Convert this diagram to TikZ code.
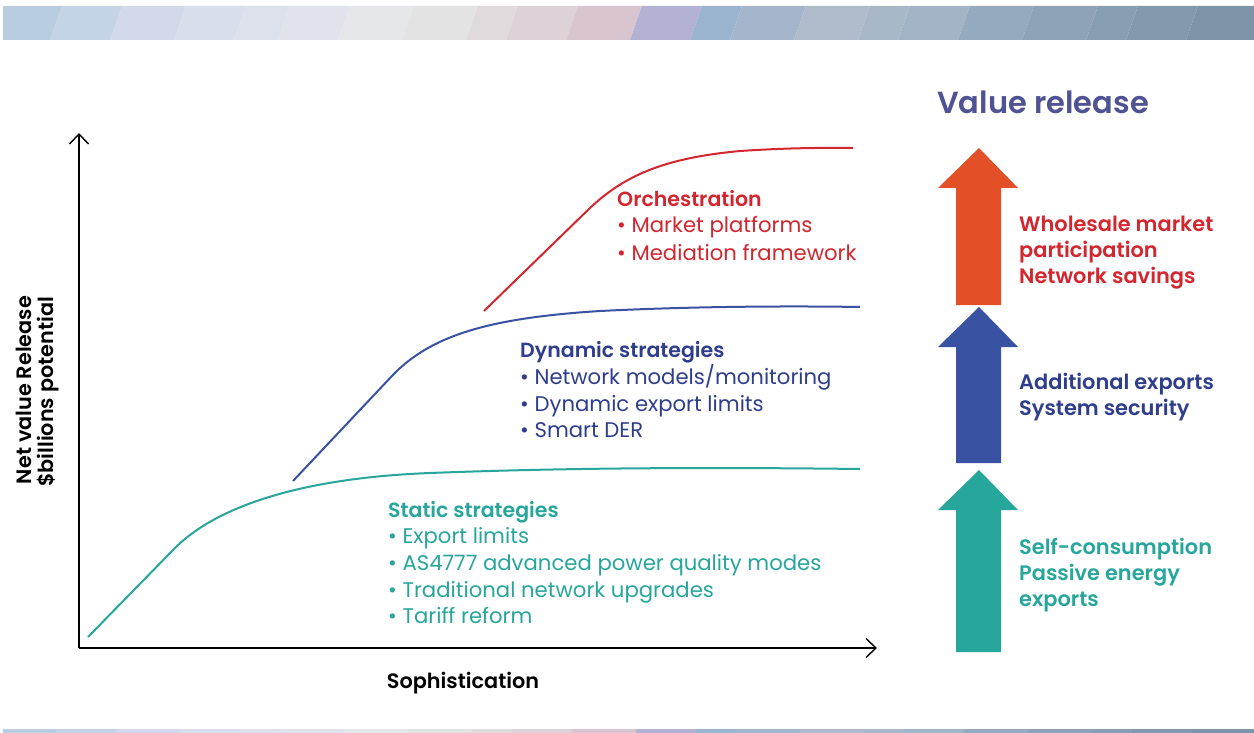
\documentclass[tikz,border=0pt]{standalone}
\usepackage{fontspec}
\setmainfont{Poppins}[BoldFont={Poppins SemiBold}]
\usetikzlibrary{arrows.meta}
\definecolor{b1}{HTML}{B9CDE1}
\definecolor{b2}{HTML}{C4D3E5}
\definecolor{b3}{HTML}{D2D9EA}
\definecolor{b4}{HTML}{D9DEEC}
\definecolor{b5}{HTML}{DDE1EC}
\definecolor{b6}{HTML}{E0E3EB}
\definecolor{b7}{HTML}{E5E6EA}
\definecolor{b8}{HTML}{E3E3E4}
\definecolor{b9}{HTML}{E0DADC}
\definecolor{b10}{HTML}{DDD2D7}
\definecolor{b11}{HTML}{D8C5CF}
\definecolor{b12}{HTML}{B3B2D2}
\definecolor{b13}{HTML}{9BB4CF}
\definecolor{b14}{HTML}{A5B6CC}
\definecolor{b15}{HTML}{AFBBCA}
\definecolor{b16}{HTML}{A9B8C9}
\definecolor{b17}{HTML}{A3B4C6}
\definecolor{b18}{HTML}{96AABF}
\definecolor{b19}{HTML}{8EA3B8}
\definecolor{b20}{HTML}{889EB3}
\definecolor{b21}{HTML}{839AAE}
\definecolor{b22}{HTML}{7E94A9}
\definecolor{tealc}{HTML}{27A69C}
\definecolor{bluec}{HTML}{3A52A2}
\definecolor{bluetxt}{HTML}{2F3E8C}
\definecolor{orangec}{HTML}{E35027}
\definecolor{redc}{HTML}{D3262F}
\definecolor{titlec}{HTML}{4F5394}
\tikzset{
  curve/.style={line width=2pt},
  axis/.style={line width=1.4pt, -{Straight Barb[length=10pt,width=19pt,line width=1.4pt]}},
  item/.style={anchor=base west, inner sep=0pt, font=\fontsize{21.2}{24}\selectfont},
  ttl/.style={anchor=base west, inner sep=0pt, font=\fontsize{20.5}{24}\selectfont\bfseries},
  rlab/.style={anchor=base west, inner sep=0pt, font=\fontsize{20.9}{24}\selectfont\bfseries},
  axlab/.style={inner sep=0pt, font=\fontsize{20.8}{24}\selectfont\bfseries},
}
\begin{document}
\begin{tikzpicture}[x=1pt,y=-1pt]
\useasboundingbox (0,0) rectangle (1254,733);
\fill[white] (0,0) rectangle (1254,733);
% banners
\begin{scope}
\clip (3,6) rectangle (1254,40);
\foreach \a/\b/\i in {-20/56/1,56/116/2,116/180/3,180/240/4,240/284/5,284/344/6,344/408/7,408/472/8,472/512/9,512/572/10,572/636/11,636/696/12,696/736/13,736/800/14,800/864/15,864/904/16,904/964/17,964/1028/18,1028/1092/19,1092/1132/20,1132/1192/21,1192/1280/22}
  \fill[b\i] (\a+6,6) -- (\b+6,6) -- (\b-6,40) -- (\a-6,40) -- cycle;
\end{scope}
\begin{scope}
\clip (3,729) rectangle (1254,733);
\foreach \a/\b/\i in {-20/56/1,56/116/2,116/180/3,180/240/4,240/284/5,284/344/6,344/408/7,408/472/8,472/512/9,512/572/10,572/636/11,636/696/12,696/736/13,736/800/14,800/864/15,864/904/16,904/964/17,964/1028/18,1028/1092/19,1092/1132/20,1132/1192/21,1192/1280/22}
  \fill[b\i] (\a,729) rectangle (\b,733);
\end{scope}
% axes
\coordinate (o) at (79,648);
\coordinate (ytop) at (79,133);
\coordinate (xend) at (877,648);
\draw[axis] (o) -- (ytop);
\draw[axis] (o) -- (xend);
\node[axlab, rotate=90, anchor=base] (ylab1) at (31,390) {Net value Release};
\node[axlab, rotate=90, anchor=base] (ylab2) at (53,392) {\$billions potential};
\node[axlab, anchor=base] (xlab) at (463,688) {Sophistication};
% curves
\coordinate (t0) at (88,637);
\coordinate (t1) at (174,549);
\coordinate (t2) at (430,473);
\coordinate (t3) at (860,469);
\draw[curve, tealc] (t0) -- (t1) .. controls (215,507) and (300,478) .. (t2) .. controls (560,468) and (700,467) .. (t3);
\coordinate (u0) at (293,481);
\coordinate (u1) at (391,377);
\coordinate (u2) at (600,311);
\coordinate (u3) at (860,307);
\draw[curve, bluec] (u0) -- (u1) .. controls (430,335) and (490,318) .. (u2) .. controls (700,306) and (800,306) .. (u3);
\coordinate (r0) at (484,311);
\coordinate (r1) at (590,208);
\coordinate (r2) at (740,151);
\coordinate (r3) at (853,148);
\draw[curve, redc] (r0) -- (r1) .. controls (625,175) and (665,158) .. (r2) .. controls (800,147) and (840,148) .. (r3);
% curve texts
\node[ttl, redc] (o1) at (617,207) {Orchestration};
\node[item, redc] (o2) at (617,233) {• Market platforms};
\node[item, redc] (o3) at (617,260) {• Mediation framework};
\node[ttl, bluetxt] (d1) at (520,357) {Dynamic strategies};
\node[item, bluetxt] (d2) at (520,384) {• Network models/monitoring};
\node[item, bluetxt] (d3) at (520,411) {• Dynamic export limits};
\node[item, bluetxt] (d4) at (520,437) {• Smart DER};
\node[ttl, tealc] (s1) at (388,517) {Static strategies};
\node[item, tealc] (s2) at (388,543) {• Export limits};
\node[item, tealc] (s3) at (388,570) {• AS4777 advanced power quality modes};
\node[item, tealc] (s4) at (388,597) {• Traditional network upgrades};
\node[item, tealc] (s5) at (388,623) {• Tariff reform};
% value release
\node[anchor=base west, inner sep=0pt, font=\fontsize{30.5}{32}\selectfont\bfseries, titlec] (vr) at (937,114) {Value release};
\fill[orangec] (956,305) -- (956,188) -- (938,188) -- (979,148) -- (1018,188) -- (1001,188) -- (1001,305) -- cycle;
\fill[bluec] (956,463) -- (956,347) -- (938,347) -- (979,307) -- (1018,347) -- (1001,347) -- (1001,463) -- cycle;
\fill[tealc] (956,652) -- (956,510) -- (938,510) -- (979,470) -- (1018,510) -- (1001,510) -- (1001,652) -- cycle;
\node[rlab, redc] (w1) at (1019,231) {Wholesale market};
\node[rlab, redc] (w2) at (1019,257) {participation};
\node[rlab, redc] (w3) at (1019,283) {Network savings};
\node[rlab, bluetxt] (a1) at (1019,389) {Additional exports};
\node[rlab, bluetxt] (a2) at (1019,415) {System security};
\node[rlab, tealc] (p1) at (1019,554) {Self-consumption};
\node[rlab, tealc] (p2) at (1019,580) {Passive energy};
\node[rlab, tealc] (p3) at (1019,606) {exports};
\end{tikzpicture}
\end{document}
